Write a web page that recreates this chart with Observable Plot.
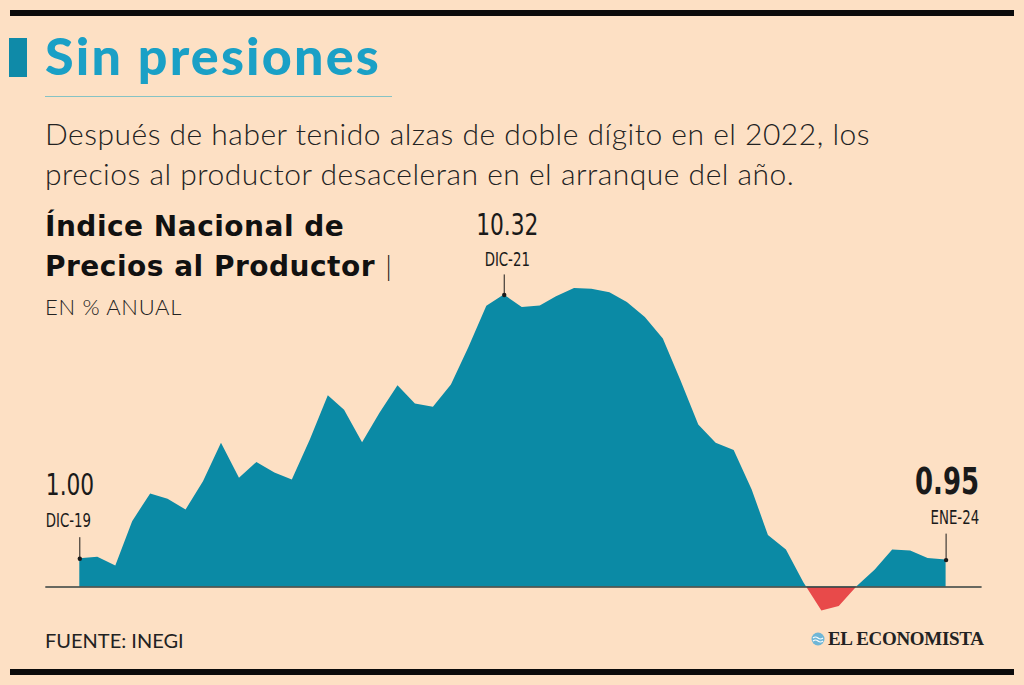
<!DOCTYPE html>
<html lang="es">
<head>
<meta charset="utf-8">
<script src="https://cdn.jsdelivr.net/npm/d3@7"></script>
<script src="https://cdn.jsdelivr.net/npm/@observablehq/plot@0.6"></script>
<style>
  html, body { margin: 0; padding: 0; }
  body {
    width: 1024px; height: 685px; position: relative; overflow: hidden;
    background: #fde0c4; font-family: Lato, "Noto Sans", sans-serif; color: #1a1a1a;
  }
  .rule-bar { position: absolute; left: 10px; width: 1004px; height: 6px; background: #0b0b0b; }
  #flag { position: absolute; left: 9px; top: 38px; width: 18px; height: 39px; background: #0f8aa8; }
  #title {
    position: absolute; left: 45px; top: 29px; margin: 0;
    font: 900 52px/1 Lato, sans-serif; color: #1aa0c6; letter-spacing: 2.2px;
  }
  #title-line { position: absolute; left: 45px; top: 96px; width: 347px; height: 1px; background: #86c3c4; }
  #subtitle {
    position: absolute; left: 45px; top: 113px; margin: 0; width: 960px;
    font: 300 30px/40px Lato, sans-serif; color: #222; letter-spacing: 0.5px;
  }
  #heading {
    position: absolute; left: 45px; top: 208px; margin: 0; z-index: 2;
    font: 700 28px/38px "DejaVu Sans", sans-serif; color: #111; letter-spacing: 0.5px;
  }
  #heading .pipe { font-weight: 300; font-family: Lato, sans-serif; }
  #unit {
    position: absolute; left: 45px; top: 296px; z-index: 2;
    font: 300 22px/1 Lato, sans-serif; color: #222; letter-spacing: 0.7px;
  }
  #chart { position: absolute; left: 0; top: 200px; }
  #source {
    position: absolute; left: 45px; top: 630px;
    font: 400 20px/1 Lato, sans-serif; color: #222;
  }
  #brand {
    position: absolute; left: 811px; top: 629px; display: flex; align-items: center; gap: 3px;
    font: 700 19px/1 "Liberation Serif", serif; color: #222; letter-spacing: -0.3px;
  }
</style>
</head>
<body>
<div class="rule-bar" style="top:10px"></div>
<div id="flag"></div>
<h1 id="title">Sin presiones</h1>
<div id="title-line"></div>
<p id="subtitle">Después de haber tenido alzas de doble dígito en el 2022, los<br>precios al productor desaceleran en el arranque del año.</p>
<p id="heading">Índice Nacional de<br>Precios al Productor <span class="pipe">|</span></p>
<div id="unit">EN % ANUAL</div>
<div id="chart"></div>
<div id="source">FUENTE: INEGI</div>
<div id="brand">
  <svg width="14" height="14" viewBox="0 0 14 14">
    <circle cx="7" cy="7" r="6.5" fill="#6fb6d6"/>
    <path d="M2 6 Q4.5 4 7 6 T12 6 M2 9 Q4.5 7 7 9 T12 9" stroke="#fff" stroke-width="1.2" fill="none"/>
  </svg>
  <span>EL ECONOMISTA</span>
</div>
<div class="rule-bar" style="top:669px"></div>

<script>
// Índice Nacional de Precios al Productor, variación anual (%), dic-2019 a ene-2024
const firstMonth = new Date(Date.UTC(2019, 11, 1));
const lastMonth = new Date(Date.UTC(2024, 0, 1));
const months = d3.utcMonth.range(firstMonth, d3.utcMonth.offset(lastMonth, 1));

const inpp = [
  1.00, 1.05, 0.74, 2.31, 3.29, 3.10, 2.72, 3.72, 5.08, 3.84,
  4.40, 4.03, 3.78, 5.19, 6.76, 6.25, 5.10, 6.14, 7.11, 6.47,
  6.35, 7.14, 8.45, 9.92, 10.32, 9.88, 9.93, 10.26, 10.55, 10.52,
  10.40, 10.05, 9.52, 8.76, 7.31, 5.72, 5.08, 4.82, 3.43, 1.82,
  1.31, 0.15, -0.85, -0.69, 0.02, 0.60, 1.31, 1.27, 1.01, 0.95
];

// Highlighted observations: month index and its tag
const calloutIndex = [0, 24, 49];
const calloutTags = ["DIC-19", "DIC-21", "ENE-24"];

const series = months.map((date, i) => ({date, value: inpp[i]}));
const callouts = calloutIndex.map((i, k) => ({
  date: months[i], value: inpp[i], label: inpp[i].toFixed(2), tag: calloutTags[k]
}));

const TEAL = "#0b8aa5";
const RED = "#e84a4a";
const INK = "#1a1a1a";
const NARROW = "'DejaVu Sans Condensed', 'DejaVu Sans', sans-serif";

// Fill that switches from teal to red exactly at the zero line
const splitFill = (index, {y}) => {
  const y0 = y(0);
  const ns = "http://www.w3.org/2000/svg";
  const defs = document.createElementNS(ns, "defs");
  const grad = document.createElementNS(ns, "linearGradient");
  grad.setAttribute("id", "inpp-fill");
  grad.setAttribute("gradientUnits", "userSpaceOnUse");
  grad.setAttribute("x1", 0); grad.setAttribute("x2", 0);
  grad.setAttribute("y1", y0); grad.setAttribute("y2", y0 + 0.01);
  for (const [offset, color] of [[0, TEAL], [1, RED]]) {
    const s = document.createElementNS(ns, "stop");
    s.setAttribute("offset", offset);
    s.setAttribute("stop-color", color);
    grad.appendChild(s);
  }
  defs.appendChild(grad);
  return defs;
};

// Per-callout placement of the value and tag text
const placement = [
  {anchor: "start", dx: -34, valueDy: -74, tagDy: -38, lift: 21, weight: 400, size: 31},
  {anchor: "middle", dx: 3, valueDy: -70, tagDy: -35, lift: 20, weight: 400, size: 31},
  {anchor: "end", dx: 33, valueDy: -78, tagDy: -42, lift: 26, weight: 700, size: 37}
];

const calloutMarks = callouts.flatMap((c, k) => {
  const p = placement[k];
  const d = [c];
  return [
    Plot.ruleX(d, {x: "date", y1: "value", y2: "value", insetTop: -p.lift, stroke: INK, strokeWidth: 1}),
    Plot.dot(d, {x: "date", y: "value", r: 2.2, fill: INK}),
    Plot.text(d, {x: "date", y: "value", text: "label", dx: p.dx, dy: p.valueDy, textAnchor: p.anchor,
      lineAnchor: "middle", fontFamily: NARROW, fontSize: p.size, fontWeight: p.weight, fill: INK}),
    Plot.text(d, {x: "date", y: "value", text: "tag", dx: p.dx, dy: p.tagDy, textAnchor: p.anchor,
      lineAnchor: "middle", fontFamily: NARROW, fontSize: 19, fill: INK})
  ];
});

const chart = Plot.plot({
  width: 1024,
  height: 460,
  marginLeft: 79.3,
  marginRight: 78.4,
  marginTop: 75.2,
  marginBottom: 16.9,
  style: {background: "transparent", overflow: "visible"},
  x: {type: "utc", domain: [firstMonth, lastMonth], axis: null},
  y: {domain: [-2, 11], axis: null},
  marks: [
    splitFill,
    Plot.areaY(series, {x: "date", y: "value", fill: "url(#inpp-fill)"}),
    Plot.ruleY([0], {stroke: "#34403f", strokeWidth: 1.6, insetLeft: -34, insetRight: -36}),
    ...calloutMarks
  ]
});

// Callout lettering is set in a tall, condensed cut: squeeze each label horizontally
// around its own anchor point.
chart.querySelectorAll('g[aria-label="text"] text').forEach((t) => {
  const tr = t.getAttribute("transform") || "";
  t.setAttribute("transform", `${tr} scale(0.78,1)`);
});

document.getElementById("chart").appendChild(chart);
</script>
</body>
</html>
